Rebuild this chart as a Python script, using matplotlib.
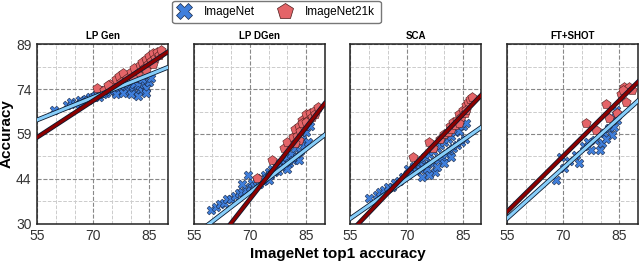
import numpy as np
import matplotlib
matplotlib.use("Agg")
import matplotlib.pyplot as plt
import matplotlib.patheffects as pe
from matplotlib.lines import Line2D

plt.rcParams['font.family'] = ['Liberation Sans', 'DejaVu Sans']

titles = ["LP Gen", "LP DGen", "SCA", "FT+SHOT"]

# ImageNet (blue X) points per panel: (imagenet top1, accuracy)
in1k_x = [
    [59.5, 63, 64, 65, 66.5, 67, 68, 68.5, 69, 70, 70.5, 71, 71.5, 72, 72.5, 73, 73.5, 74, 74.5, 75,
     75.5, 76, 76.5, 77, 77.5, 78, 78.5, 79, 79.5, 80, 80.5, 81, 81.5, 82, 82.5, 83, 83.5, 84, 84.5, 85,
     85.5, 76, 78, 80, 82, 84, 79, 81, 83],
    [59.7, 61, 62, 63, 64, 65, 66, 67, 68, 69, 70, 70.5, 71, 72, 72.5, 73, 73.5, 74, 74.5, 75,
     75.5, 76, 76.5, 77, 77.5, 78, 78.5, 79, 79.5, 80, 80.5, 81, 81.5, 82, 82.5, 83, 83.5, 84, 84.5, 85,
     85.5, 86, 69.5, 68, 75, 80, 83],
    [60, 62, 63, 64, 65, 66, 67, 68, 69, 70, 70.5, 71, 72, 72.5, 73, 73.5, 74, 74.5, 75, 75.5,
     76, 76.5, 77, 77.5, 78, 78.5, 79, 79.5, 80, 80.5, 81, 81.5, 82, 82.5, 83, 83.5, 84, 84.5, 85, 85.5,
     86, 74, 76, 78, 80, 82],
    [68, 70.2, 69.3, 73.3, 74.2, 75.5, 77.3, 78.6, 79.9, 80.4, 80.8, 82.2, 83.1, 83.5, 84.5, 84, 82.7,
     71.5, 76.5, 81.5],
]
in1k_y = [
    [67.5, 69, 70, 69.5, 70.5, 70, 71, 70.5, 71.5, 71.5, 72, 72.5, 71.5, 73, 72.5, 74, 73, 74.5, 73.5, 75,
     74, 75.5, 73.5, 76, 74, 76.5, 74, 75, 73.5, 75.5, 74, 76, 73, 75.5, 74, 73.5, 76, 74.5, 77, 76.5,
     78, 72.5, 73, 72.5, 72, 73, 77, 78, 77.5],
    [34.6, 35.5, 36.5, 37, 38, 38, 39, 40, 40.5, 41, 42, 43.5, 42.5, 44, 43, 45, 44, 46, 45, 47,
     46, 48, 47, 49, 47.5, 50, 48.5, 51, 49.5, 52, 50, 53, 51, 55, 52, 57, 54, 58, 56, 60,
     57, 62, 46, 43, 44.5, 48, 51],
    [38.4, 39.5, 40.5, 41, 42, 42, 43.5, 44, 45.5, 46, 48, 47, 49, 47.5, 50, 48, 51, 49, 52, 48,
     53, 50, 54, 47, 55, 51, 56, 52, 57, 53, 58, 54, 59, 55, 60, 56, 60.5, 57, 62, 58,
     63, 45.5, 46, 48.5, 50, 52],
    [44.4, 48.2, 52, 52.6, 49.9, 55.4, 54.3, 57.5, 54.3, 56.4, 59.7, 61.4, 59.2, 61.9, 64.1, 67.4, 65.2,
     50.5, 57, 58],
]

# ImageNet21k (red pentagon) points per panel
in21k_x = [
    [71, 73, 74.5, 76, 77, 78, 79, 80, 81, 82, 82.5, 83, 83.5, 84, 84.5, 85, 85.5, 86, 86.5, 87,
     87.5, 88, 80.5, 84, 86, 77.5, 74],
    [71.8, 75.8, 79, 80, 81.6, 82, 82.5, 83, 83.5, 84, 84.5, 85, 85.5, 86, 86.5, 87, 87.5, 88.3, 84, 85,
     83, 82],
    [71.7, 76, 77, 79, 80, 81, 81.5, 82, 82.5, 83, 83.5, 84, 84.5, 85, 85.5, 86, 86.5, 87, 87.5, 84, 86],
    [76, 78.7, 81.3, 84.5, 82.2, 85.4, 86.3, 86.7, 87.6, 85.9, 88.5],
]
in21k_y = [
    [74.5, 74, 76, 77.5, 78.5, 79.5, 78, 80, 81, 79.5, 82, 83, 81, 84, 82.5, 85, 83.5, 86, 84.5, 86.5,
     85.5, 87, 78, 80.5, 82.5, 76.5, 75.5],
    [45, 51, 55, 57, 58.6, 61, 59, 62, 60.5, 64, 62, 66, 64, 66.5, 65, 67, 66, 68.5, 63, 63.5,
     57.5, 56.5],
    [52, 57, 55, 58, 59.5, 60, 62, 61, 63.5, 62.5, 64, 66, 65, 67.5, 66.5, 69, 70, 71, 71.5, 63, 67.5],
    [63, 60.8, 69.5, 66.3, 64.6, 72.6, 75, 70.1, 75, 73.8, 73.9],
]

# linear trend lines: accuracy at x=55 and x=90
in1k_fit = [(64.1, 81.4), (26.1, 59.2), (31.8, 61.7), (31.8, 70.4)]
in21k_fit = [(58.4, 86.5), (14.6, 69.5), (27.3, 72.3), (34.0, 76.6)]

blue = "#3f7fdc"
red = "#e46468"
light_blue = "#87cefa"
dark_red = "#8b0000"

xlim = (55, 90)
ylim = (30, 89)
yticks = np.linspace(30, 89, 5)

fig, axs = plt.subplots(1, 4, figsize=(6.4, 2.64), dpi=100, sharey=True)
fig.subplots_adjust(left=0.058, right=0.997, bottom=0.152, top=0.833, wspace=0.196)

for i, ax in enumerate(axs):
    ax.scatter(in1k_x[i], in1k_y[i], marker="X", s=40, color=blue,
               edgecolor="#1a2a4a", linewidth=0.4, zorder=3)
    ax.scatter(in21k_x[i], in21k_y[i], marker="p", s=50, color=red,
               edgecolor="#4a1a1a", linewidth=0.4, zorder=3)

    for fit, col in [(in1k_fit[i], light_blue), (in21k_fit[i], dark_red)]:
        ax.plot(xlim, fit, color=col, lw=2.2, zorder=4,
                path_effects=[pe.Stroke(linewidth=3.4, foreground="#0a1a30"), pe.Normal()])

    ax.set_xlim(*xlim)
    ax.set_ylim(*ylim)
    ax.set_xticks([55, 70, 85])
    ax.set_xticks([60, 65, 75, 80], minor=True)
    ax.set_yticks(yticks)
    ax.set_yticks((yticks[:-1] + yticks[1:]) / 2, minor=True)
    ax.set_yticklabels([f"{int(v)}" for v in yticks])
    ax.grid(which="major", ls="--", color="#888888", lw=0.8)
    ax.grid(which="minor", ls="--", color="#cccccc", lw=0.7)
    ax.set_axisbelow(True)
    ax.tick_params(which="both", length=0, labelsize=10, colors="#333333", pad=4)
    for sp in ax.spines.values():
        sp.set_color("#222222")
        sp.set_linewidth(1.1)
    ax.set_title(titles[i], fontsize=7, fontweight="bold", pad=4)

axs[0].set_ylabel("Accuracy", fontsize=11, fontweight="bold", labelpad=2)
fig.text(0.528, 0.01, "ImageNet top1 accuracy", ha="center", va="bottom",
         fontsize=11, fontweight="bold")

handles = [
    Line2D([], [], ls="none", marker="X", markersize=12, color=blue,
           markeredgecolor="#1a2a4a", markeredgewidth=0.5, label="ImageNet"),
    Line2D([], [], ls="none", marker="p", markersize=12, color=red,
           markeredgecolor="#4a1a1a", markeredgewidth=0.5, label="ImageNet21k"),
]
fig.legend(handles=handles, loc="upper center", bbox_to_anchor=(0.432, 1.02), ncol=2,
           fontsize=8.5, frameon=True, edgecolor="#555555", fancybox=True,
           handlelength=1.0, handletextpad=1.2, columnspacing=2.1, borderpad=0.45)

plt.savefig("out.png", dpi=100)
